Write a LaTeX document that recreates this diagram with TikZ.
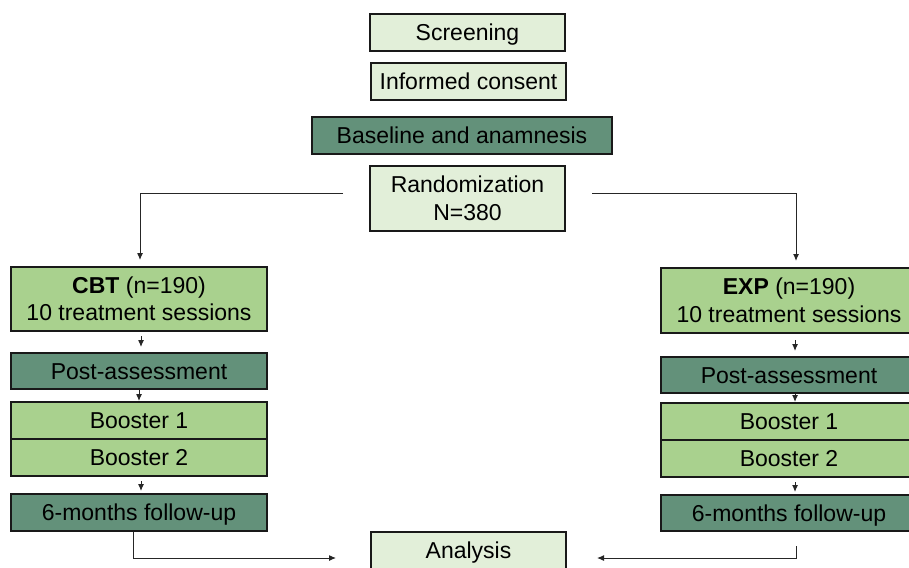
\documentclass[tikz,border=0pt]{standalone}
\usepackage{fontspec}
\setmainfont{Liberation Sans}
\usetikzlibrary{positioning,arrows.meta}
\definecolor{palegreen}{HTML}{E2EFD9}
\definecolor{leafgreen}{HTML}{A9D18E}
\definecolor{sagegreen}{HTML}{63917A}
\tikzset{
	box/.style={draw=black!90, line width=2pt, minimum height=37pt, inner sep=0pt, align=center, font=\fontsize{23}{27.5}\selectfont},
	pale/.style={box, fill=palegreen, minimum width=195pt},
	arm/.style={box, fill=leafgreen, minimum width=256pt},
	assess/.style={box, fill=sagegreen, minimum width=256pt},
	oneline/.style={text height=20.5pt, text depth=4.5pt},
	link/.style={draw=black!85, line width=1pt, -{Latex[length=7pt,width=6pt]}}
}

\begin{document}
\begin{tikzpicture}[x=1pt,y=-1pt]

					\useasboundingbox (0,0) rectangle (909,567);

					\node[pale, oneline] (screen) at (467.5,32.5) {Screening};
					\node[pale, oneline] (consent) at (468.5,81.5) {Informed consent};
					\node[assess, oneline, minimum width=300pt] (baseline) at (462,135.5) {Baseline and anamnesis};
					\node[pale, minimum height=65pt] (random) at (467.5,198.5) {Randomization\\N=380};

					\node[arm, minimum height=64pt] (cbt) at (139,299) {\textbf{CBT} (n=190)\\10 treatment sessions};
					\node[assess, oneline, minimum height=36pt] (cbtpost) at (139,371) {Post-assessment};
					\node[arm, oneline] (cbtbone) at (139,420.5) {Booster 1};
					\node[arm, oneline] (cbtbtwo) at (139,457.5) {Booster 2};
					\node[assess, oneline] (cbtfu) at (139,512.5) {6-months follow-up};

					\node[arm, minimum height=65pt] (exp) at (789,300.5) {\textbf{EXP} (n=190)\\10 treatment sessions};
					\node[assess, oneline, minimum height=36pt] (exppost) at (789,375) {Post-assessment};
					\node[arm, oneline] (expbone) at (789,421.5) {Booster 1};
					\node[arm, oneline] (expbtwo) at (789,458.5) {Booster 2};
					\node[assess, oneline, minimum height=36pt] (expfu) at (789,513) {6-months follow-up};

					\node[pale, oneline] (analysis) at (468.5,550.5) {Analysis};

					\coordinate (randl) at (343,193);
					\coordinate (randr) at (592,193);
					\coordinate (anal) at (336,558);
					\coordinate (anar) at (597,558);

					\draw[link, shorten >=6pt] (randl) -| ([xshift=1pt]cbt.north);
					\draw[link, shorten >=6pt] (randr) -| ([xshift=7pt]exp.north);

					\draw[link, shorten <=4pt, shorten >=5pt] ([xshift=2pt]cbt.south) -- ([xshift=2pt]cbtpost.north);
					\draw[link] (cbtpost) -- (cbtbone);
					\draw[link, shorten <=4pt, shorten >=2pt] ([xshift=2pt]cbtbtwo.south) -- ([xshift=2pt]cbtfu.north);

					\draw[link, shorten <=6pt, shorten >=5pt] ([xshift=6pt]exp.south) -- ([xshift=6pt]exppost.north);
					\draw[link] ([xshift=6pt]exppost.south) -- ([xshift=6pt]expbone.north);
					\draw[link, shorten <=4pt, shorten >=2pt] ([xshift=6pt]expbtwo.south) -- ([xshift=6pt]expfu.north);

					\draw[link] ([xshift=-6pt]cbtfu.south) |- (anal);
					\draw[link] ([xshift=7pt,yshift=-14pt]expfu.south) |- (anar);

\end{tikzpicture}
\end{document}
